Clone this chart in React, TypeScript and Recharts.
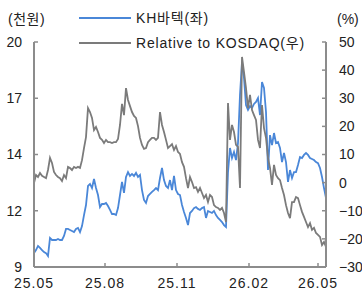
import React from 'react';
import { LineChart, Line, XAxis, YAxis, Legend } from 'recharts';

// KH바텍 share price (천원), left axis
const priceValues = [
  9.68, 9.83, 10.03, 9.93, 9.83, 9.73, 9.68, 9.54, 10.42, 10.32,
  10.32, 10.32, 10.37, 10.32, 10.32, 10.52, 10.86, 10.86, 10.81, 10.76,
  10.71, 10.86, 10.91, 10.71, 11.0, 11.54, 12.03, 12.96, 13.06, 12.86,
  13.3, 12.86, 12.52, 11.93, 12.08, 12.08,
  12.13, 11.98, 11.79, 11.59, 11.59, 11.54, 11.88, 12.52, 13.16, 12.62,
  13.4, 13.64, 13.45, 13.55, 13.45, 13.6, 13.4, 13.5, 12.76, 12.28,
  12.13, 12.47, 12.57, 12.67, 12.76, 12.86, 12.76, 13.35, 13.84, 13.25,
  12.96, 12.86, 13.25, 12.76, 13.45, 12.76, 12.57, 12.52, 12.03, 11.69,
  11.4, 11.05, 11.64, 11.74, 11.88, 11.93, 11.84, 11.79, 11.88, 11.93,
  11.4, 11.74, 11.69, 11.64, 11.74, 11.54, 11.4, 11.3, 11.2, 11.05,
  10.96, 13.64, 14.82, 14.33, 14.62, 14.23, 15.06, 17.41, 19.02, 18.24,
  16.92, 16.68, 16.87, 16.77, 16.97, 17.07, 17.26, 16.43, 18.04, 17.75,
  16.58, 13.74, 15.45, 14.96, 15.55, 15.06, 15.11, 14.82, 14.13, 14.57,
  14.13, 13.16, 13.74, 13.35, 13.64, 13.64, 13.99, 14.38, 14.33, 14.48,
  14.57, 14.48, 14.33, 14.28, 14.23, 14.13, 14.08, 13.84, 13.4, 12.86,
  12.37,
];

// Relative to KOSDAQ (%), right axis
const relativeValues = [
  -0.1, 2.7, 2.0, 3.4, 2.4, 2.0, 1.6, 4.5, 8.8, 7.0,
  3.8, 2.7, 2.0, 1.6, 0.6, 2.7, 1.6, 5.6, 5.2, 4.5,
  5.6, 5.2, 5.6, 5.2, 8.0, 12.3, 16.2, 26.5, 25.1, 23.0,
  18.7, 19.8, 18.0, 15.9, 15.2, 14.1,
  15.2, 14.4, 14.4, 14.1, 14.4, 14.4, 15.5, 20.5, 28.0, 24.0,
  33.6, 29.4, 27.2, 25.1, 23.7, 23.0, 20.1, 15.9, 13.4, 12.0,
  12.3, 14.4, 15.2, 15.9, 15.9, 15.2, 15.9, 25.1, 20.5, 18.0,
  15.2, 12.3, 13.0, 13.7, 11.6, 13.0, 10.9, 10.2, 7.3, 5.6,
  1.6, -1.9, 2.0, 0.2, -1.9, -1.6, -3.3, -1.9, -3.7, -5.5,
  -4.4, -6.9, -4.4, -5.1, -8.0, -8.7, -9.0, -9.7, -9.0, -10.8,
  -14.0, 28.3, 15.2, 20.5, 18.0, 13.4, 12.7, -1.9, 44.7, 39.3,
  33.6, 26.5, 31.2, 25.8, 24.0, 22.3, 15.2, 12.3, 27.6, 19.4,
  15.9, 8.8, 5.2, -0.8, 6.3, 2.7, 1.6, 0.9, -1.9, -4.4,
  -8.0, -10.8, -12.6, -6.9, -6.9, -5.1, -5.5, -8.0, -10.4, -12.2,
  -14.0, -15.8, -14.4, -16.8, -16.1, -17.9, -18.6, -19.3, -22.2, -21.1,
  -22.9,
];

const seriesNames = ['KH바텍(좌)', 'Relative to KOSDAQ(우)'];
const leftUnit = '(천원)';
const rightUnit = '(%)';

const xTickPositions = [0, 35.5, 71.5, 107.5, 142];
const xTickLabels = ['25.05', '25.08', '25.11', '26.02', '26.05'];
const leftTicks = [9, 11.75, 14.5, 17.25, 20];
const leftTickLabels = ['9', '12', '14', '17', '20'];
const rightTicks = [-30, -20, -10, 0, 10, 20, 30, 40, 50];

const FONT = '"Liberation Sans", Arial, "Noto Sans CJK KR", sans-serif';
const BLUE = '#4a87d8';
const GRAY = '#7b7b7b';
const AXIS = '#8c8c8c';
const TEXT = '#222';

const data = priceValues.map((p, i) => ({ i, price: p, rel: relativeValues[i] }));

const fmtSigned = (v: number) => (v < 0 ? '\u2212' + Math.abs(v) : String(v));

const renderLegend = (props: any) => {
  const items = props.payload || [];
  return (
    <div style={{ position: 'relative', width: 362, height: 60, fontFamily: FONT, fontSize: 14, color: TEXT }}>
      {items.map((it: any, k: number) => (
        <div
          key={k}
          style={{
            position: 'absolute',
            left: 79,
            top: k === 0 ? 9 : 34,
            height: 18,
            display: 'flex',
            alignItems: 'center',
            whiteSpace: 'nowrap',
          }}
        >
          <svg width={52} height={4} style={{ display: 'block' }}>
            <line x1={0} y1={2} x2={52} y2={2} stroke={it.color} strokeWidth={1.8} />
          </svg>
          <span style={{ marginLeft: 5, letterSpacing: 0.8, lineHeight: '18px' }}>{it.value}</span>
        </div>
      ))}
    </div>
  );
};

export default function App() {
  return (
    <div style={{ position: 'absolute', left: 0, top: 0, width: 362, height: 291, background: '#fff', overflow: 'hidden' }}>
      <LineChart width={362} height={291} data={data} margin={{ top: 42, right: 0, bottom: 0, left: 0 }}>
        <XAxis
          type="number"
          dataKey="i"
          domain={[0, 146]}
          ticks={xTickPositions}
          interval={0}
          tickFormatter={(v: number) => xTickLabels[xTickPositions.indexOf(v)]}
          height={24}
          axisLine={{ stroke: AXIS, strokeWidth: 2 }}
          tickLine={{ stroke: AXIS, strokeWidth: 1.5 }}
          tickSize={-4}
          tickMargin={15}
          tick={{ fill: TEXT, fontSize: 14, fontFamily: FONT, letterSpacing: 1 }}
        />
        <YAxis
          yAxisId="left"
          orientation="left"
          domain={[9, 20]}
          ticks={leftTicks}
          interval={0}
          tickFormatter={(v: number) => leftTickLabels[leftTicks.indexOf(v)]}
          width={34}
          axisLine={{ stroke: AXIS, strokeWidth: 2 }}
          tickLine={{ stroke: AXIS, strokeWidth: 1.5 }}
          tickSize={-4}
          tickMargin={16}
          tick={{ fill: TEXT, fontSize: 14, fontFamily: FONT }}
        />
        <YAxis
          yAxisId="right"
          orientation="right"
          domain={[-30, 50]}
          ticks={rightTicks}
          interval={0}
          tickFormatter={fmtSigned}
          width={36}
          axisLine={{ stroke: AXIS, strokeWidth: 2 }}
          tickLine={{ stroke: AXIS, strokeWidth: 1.5 }}
          tickSize={-4}
          tickMargin={17}
          tick={{ fill: TEXT, fontSize: 14, fontFamily: FONT }}
        />
        <Legend
          layout="vertical"
          align="center"
          verticalAlign="middle"
          content={renderLegend}
          wrapperStyle={{ position: 'absolute', left: 0, top: 0, width: 362, height: 60 }}
        />
        <Line
          yAxisId="left"
          type="linear"
          dataKey="price"
          name={seriesNames[0]}
          stroke={BLUE}
          strokeWidth={1.8}
          dot={false}
          activeDot={false}
          isAnimationActive={false}
        />
        <Line
          yAxisId="right"
          type="linear"
          dataKey="rel"
          name={seriesNames[1]}
          stroke={GRAY}
          strokeWidth={1.8}
          dot={false}
          activeDot={false}
          isAnimationActive={false}
        />
      </LineChart>
      <div style={{ position: 'absolute', left: 8, top: 10, height: 18, lineHeight: '18px', fontFamily: FONT, fontSize: 14, color: TEXT, letterSpacing: 0.5 }}>
        {leftUnit}
      </div>
      <div style={{ position: 'absolute', left: 337, top: 10, height: 18, lineHeight: '18px', fontFamily: FONT, fontSize: 14, color: TEXT }}>
        {rightUnit}
      </div>
    </div>
  );
}
